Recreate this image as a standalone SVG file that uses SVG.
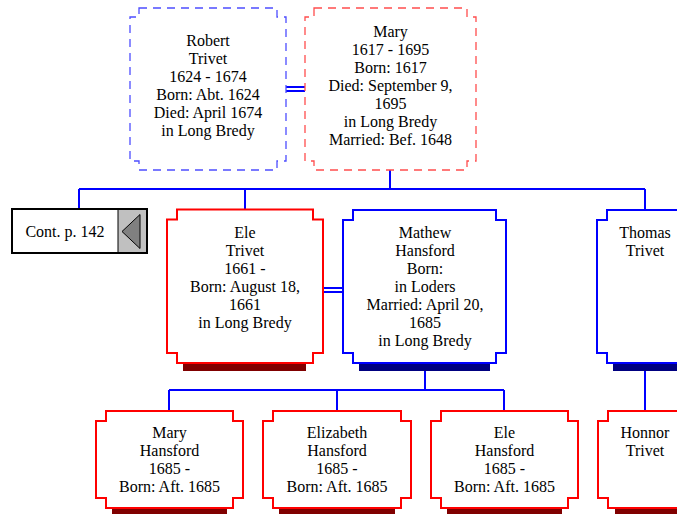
<svg xmlns="http://www.w3.org/2000/svg" width="677" height="514" viewBox="0 0 677 514">
<style>
text{font-family:"Liberation Serif","Times New Roman",serif;font-size:16px;fill:#000;text-anchor:middle}
.dB{fill:#fff;stroke:#4d4dff;stroke-width:1.3;stroke-dasharray:8 6}
.dR{fill:#fff;stroke:#ff4d4d;stroke-width:1.3;stroke-dasharray:8 6}
.sB{fill:#fff;stroke:#0000ff;stroke-width:2}
.sR{fill:#fff;stroke:#ff0000;stroke-width:2}
.shR{fill:#800000}
.shB{fill:#000080}
.c{fill:none;stroke:#0000ff;stroke-width:2}
</style>
<rect width="677" height="514" fill="#fff"/>
<g id="connectors">
<path class="c" d="M286 87H305M286 91H305" stroke-width="1.5"/>
<path class="c" d="M390 170V189M79 189H645M79 189V209M245 189V209M645 189V210"/>
<path class="c" d="M323 288H343M323 292H343" stroke-width="1.5"/>
<path class="c" d="M425 371V390M169 390H504M169 390V411M337 390V411M504 390V411M645 371V411"/>
</g>
<g id="robert">
<path class="dB" d="M139 8H277V17H286V161H277V170H139V161H130V17H139Z"/>
<text x="208" y="45.5">Robert</text>
<text x="208" y="63.5">Trivet</text>
<text x="208" y="81.5">1624 - 1674</text>
<text x="208" y="99.5">Born: Abt. 1624</text>
<text x="208" y="117.5">Died: April 1674</text>
<text x="208" y="135.5">in Long Bredy</text>
</g>
<g id="mary">
<path class="dR" d="M314 8H467V17H476V161H467V170H314V161H305V17H314Z"/>
<text x="390.5" y="36.5">Mary</text>
<text x="390.5" y="54.5">1617 - 1695</text>
<text x="390.5" y="72.5">Born: 1617</text>
<text x="390.5" y="90.5">Died: September 9,</text>
<text x="390.5" y="108.5">1695</text>
<text x="390.5" y="126.5">in Long Bredy</text>
<text x="390.5" y="144.5">Married: Bef. 1648</text>
</g>
<g id="cont">
<rect x="12" y="209" width="135" height="44" fill="#fff" stroke="#000" stroke-width="2"/>
<rect x="118" y="210" width="28" height="42" fill="#c0c0c0"/>
<line x1="118" y1="210" x2="118" y2="252" stroke="#000" stroke-width="1"/>
<polygon points="122,231.5 140,214.5 140,248.5" fill="#808080" stroke="#000" stroke-width="1"/>
<text x="65" y="237">Cont. p. 142</text>
</g>
<g id="ele">
<rect class="shR" x="183" y="363" width="123" height="8"/>
<path class="sR" d="M177 209.5H313V219.5H323V353H313V363H177V353H167V219.5H177Z"/>
<text x="245" y="238">Ele</text>
<text x="245" y="256">Trivet</text>
<text x="245" y="274">1661 -</text>
<text x="245" y="292">Born: August 18,</text>
<text x="245" y="310">1661</text>
<text x="245" y="328">in Long Bredy</text>
</g>
<g id="mathew">
<rect class="shB" x="359" y="363" width="131" height="8"/>
<path class="sB" d="M353 210H496V220H506V353H496V363H353V353H343V220H353Z"/>
<text x="425" y="237.5">Mathew</text>
<text x="425" y="255.5">Hansford</text>
<text x="425" y="273.5">Born:</text>
<text x="425" y="291.5">in Loders</text>
<text x="425" y="309.5">Married: April 20,</text>
<text x="425" y="327.5">1685</text>
<text x="425" y="345.5">in Long Bredy</text>
</g>
<g id="thomas">
<rect class="shB" x="613" y="363" width="100" height="8"/>
<path class="sB" d="M607 210H683V220H693V353H683V363H607V353H597V220H607Z"/>
<text x="645" y="237.5">Thomas</text>
<text x="645" y="255.5">Trivet</text>
</g>
<g id="maryh">
<rect class="shR" x="112" y="508" width="115" height="8"/>
<path class="sR" d="M106 411H233V421H243V498H233V508H106V498H96V421H106Z"/>
<text x="169.5" y="438">Mary</text>
<text x="169.5" y="456">Hansford</text>
<text x="169.5" y="474">1685 -</text>
<text x="169.5" y="492">Born: Aft. 1685</text>
</g>
<g id="elizabeth">
<rect class="shR" x="279" y="508" width="116" height="8"/>
<path class="sR" d="M273 411H401V421H411V498H401V508H273V498H263V421H273Z"/>
<text x="337" y="438">Elizabeth</text>
<text x="337" y="456">Hansford</text>
<text x="337" y="474">1685 -</text>
<text x="337" y="492">Born: Aft. 1685</text>
</g>
<g id="eleh">
<rect class="shR" x="447" y="508" width="115" height="8"/>
<path class="sR" d="M441 411H568V421H578V498H568V508H441V498H431V421H441Z"/>
<text x="504.5" y="438">Ele</text>
<text x="504.5" y="456">Hansford</text>
<text x="504.5" y="474">1685 -</text>
<text x="504.5" y="492">Born: Aft. 1685</text>
</g>
<g id="honnor">
<rect class="shR" x="615" y="508" width="100" height="8"/>
<path class="sR" d="M608 411H683V421H693V498H683V508H608V498H598V421H608Z"/>
<text x="645" y="438">Honnor</text>
<text x="645" y="456">Trivet</text>
</g>
</svg>
